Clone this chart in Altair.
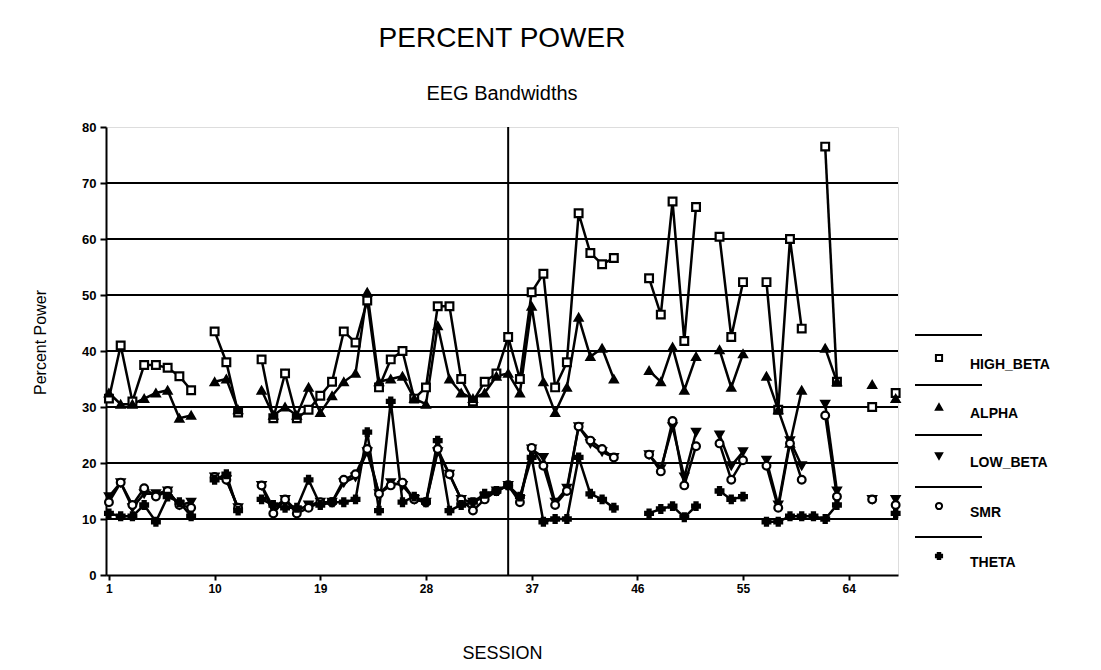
import altair as alt
import pandas as pd

N = None
SESSIONS = list(range(1, 69))

HIGH_BETA = [31.5, 41, 31, 37.5, 37.5, 37, 35.5, 33, N, 43.5,
             38, 29, N, 38.5, 28, 36, 28, 29.5, 32, 34.5,
             43.5, 41.5, 49, 33.5, 38.5, 40, 31.5, 33.5, 48, 48,
             35, 31, 34.5, 36, 42.5, 35, 50.5, 53.8, 33.5, 38,
             64.6, 57.5, 55.5, 56.6, N, N, 53, 46.5, 66.7, 41.8,
             65.7, N, 60.4, 42.5, 52.3, N, 52.3, 29.5, 60, 44,
             N, 76.5, 34.5, N, N, 30, N, 32.5]
ALPHA = [32.5, 30.5, 30.5, 31.5, 32.5, 33, 28, 28.5, N, 34.5,
         35, 29.5, N, 33, 28.5, 30, 28.5, 33.5, 29, 32,
         34.5, 36, 50.5, 34.5, 35, 35.5, 31.5, 30.5, 44.5, 35,
         32.5, 31.5, 32.5, 35.5, 36, 32.5, 48, 34.5, 29, 33.5,
         46, 39, 40.5, 35, N, N, 36.5, 34.5, 40.7, 33,
         39, N, 40.2, 33.5, 39.5, N, 35.5, 29.5, 23.5, 33,
         N, 40.5, 34.5, N, N, 34, N, 31.5]
LOW_BETA = [14, 16.5, 12, 14.5, 14.5, 15, 12.5, 13, N, 17.5,
            17, 12, N, 16, 12, 13.5, 11.5, 12.5, 13, 13,
            16.5, 17.5, 22, 14.5, 16.5, 16, 13.5, 13, 22, 18,
            13.5, 13, 14, 15, 16, 13.5, 22.5, 21, 13, 15.5,
            26.5, 23.5, 22, 21, N, N, 21.5, 19, 26.5, 17.5,
            25.5, N, 25, 19.5, 22, N, 20.5, 12.5, 24, 19.5,
            N, 30.5, 15, N, N, 13.5, N, 13.5]
SMR = [13, 16.5, 12.5, 15.5, 14, 15, 12.5, 12, N, 17.5,
       17, 12, N, 16, 11, 13.5, 11, 12, 13, 13,
       17, 18, 22.5, 14.5, 16, 16.5, 13.5, 13, 22.5, 18,
       13.5, 11.5, 13.5, 15, 16, 13, 22.7, 19.5, 12.5, 15,
       26.5, 24, 22.5, 21, N, N, 21.5, 18.5, 27.5, 16,
       23, N, 23.5, 17, 20.5, N, 19.5, 12, 23.5, 17,
       N, 28.5, 14, N, N, 13.5, N, 12.5]
THETA = [11, 10.5, 10.5, 12.5, 9.5, 14, 13, 10.5, N, 17,
         18, 11.5, N, 13.5, 12.5, 12, 12, 17, 12.5, 13,
         13, 13.5, 25.5, 11.5, 31, 13, 14, 13, 24, 11.5,
         12.5, 13, 14.5, 15, 16, 14, 21, 9.5, 10, 10,
         21, 14.5, 13.5, 12, N, N, 11, 11.8, 12.3, 10.3,
         12.3, N, 15, 13.5, 14, N, 9.5, 9.5, 10.5, 10.5,
         10.5, 10, 12.5, N, N, N, N, 11]

SERIES = ["HIGH_BETA", "ALPHA", "LOW_BETA", "SMR", "THETA"]
VALUES = [HIGH_BETA, ALPHA, LOW_BETA, SMR, THETA]
SHAPES = ["square", "triangle-up", "triangle-down", "circle", "cross"]
FILLS = ["white", "black", "black", "white", "black"]
STROKES = ["black"] * 5

X_TICKS = [1, 10, 19, 28, 37, 46, 55, 64]
Y_TICKS = list(range(0, 85, 5))
GRID_Y = [10, 20, 30, 40, 50, 60, 70]
DIVIDER_SESSION = [35]

rows = []
for name, vals in zip(SERIES, VALUES):
    seg = 0
    prev = None
    for s, v in zip(SESSIONS, vals):
        if v is None:
            if prev is not None:
                seg += 1
            prev = None
            continue
        rows.append({"session": s, "power": v, "band": name, "seg": f"{name}_{seg}"})
        prev = v
df = pd.DataFrame(rows)

FONT = "Liberation Sans"
xscale = alt.Scale(domain=[0.75, 68.2], nice=False, zero=False)
yscale = alt.Scale(domain=[0, 80], nice=False)

base = alt.Chart(df)

grid = alt.Chart(pd.DataFrame({"g": GRID_Y})).mark_rule(color="black", strokeWidth=2).encode(
    y=alt.Y("g:Q", scale=yscale)
)
divider = alt.Chart(pd.DataFrame({"d": DIVIDER_SESSION})).mark_rule(color="black", strokeWidth=2).encode(
    x=alt.X("d:Q", scale=xscale)
)

lines = base.mark_line(color="black", strokeWidth=2.5).encode(
    x=alt.X("session:Q", scale=xscale,
            axis=alt.Axis(values=X_TICKS, title="SESSION", grid=False, tickSize=5,
                          labelFontWeight="bold", labelFontSize=12, labelFont=FONT,
                          titleFont=FONT, titleFontSize=18, titleFontWeight="normal",
                          titleY=78, titleBaseline="middle",
                          domainColor="black", domainWidth=2, tickColor="black", tickWidth=2,
                          labelColor="black", titleColor="black", labelPadding=3)),
    y=alt.Y("power:Q", scale=yscale,
            axis=alt.Axis(values=Y_TICKS, title="Percent Power", grid=False, tickSize=6,
                          labelExpr="datum.value % 10 == 0 ? datum.label : ''",
                          labelFontWeight="bold", labelFontSize=13, labelFont=FONT,
                          titleFont=FONT, titleFontSize=16, titleFontWeight="normal",
                          titleX=-66, titleY=215, titleBaseline="middle",
                          domainColor="black", domainWidth=2, tickColor="black", tickWidth=2,
                          labelColor="black", titleColor="black", labelPadding=4)),
    detail="seg:N",
)

points = base.mark_point(strokeWidth=2.2, size=60, opacity=1).encode(
    x=alt.X("session:Q", scale=xscale),
    y=alt.Y("power:Q", scale=yscale),
    shape=alt.Shape("band:N", scale=alt.Scale(domain=SERIES, range=SHAPES),
                    legend=alt.Legend(title=None, orient="none", legendX=826, legendY=224,
                                      labelFont=FONT, labelFontSize=14, labelFontWeight="bold",
                                      labelColor="black", rowPadding=28, labelOffset=24,
                                      symbolStrokeColor="black", symbolStrokeWidth=2,
                                      symbolSize=38, labelBaseline="top", padding=0)),
    fill=alt.Fill("band:N", scale=alt.Scale(domain=SERIES, range=FILLS), legend=None),
    stroke=alt.Stroke("band:N", scale=alt.Scale(domain=SERIES, range=STROKES), legend=None),
)

seps = []
for yy in [208, 258, 308, 360, 410]:
    seps.append(alt.Chart(alt.Data(values=[{}])).mark_rule(color="black", strokeWidth=2).encode(
        x=alt.value(809), x2=alt.value(876), y=alt.value(yy)))

chart = alt.layer(grid, divider, lines, points, *seps).properties(
    width=792, height=448,
    padding={"left": 98, "top": 119, "right": 190, "bottom": 92},
    autosize=alt.AutoSizeParams(type="none"),
    title=alt.TitleParams(text="PERCENT POWER", subtitle="EEG Bandwidths", anchor="middle",
                          font=FONT, fontSize=28, fontWeight="normal", color="black",
                          subtitleFont=FONT, subtitleFontSize=20, subtitleColor="black",
                          subtitlePadding=31, offset=17),
).configure_view(stroke="black", strokeWidth=2).configure(background="white")

chart.save("out.html", embed_options={"renderer": "svg", "actions": False})
